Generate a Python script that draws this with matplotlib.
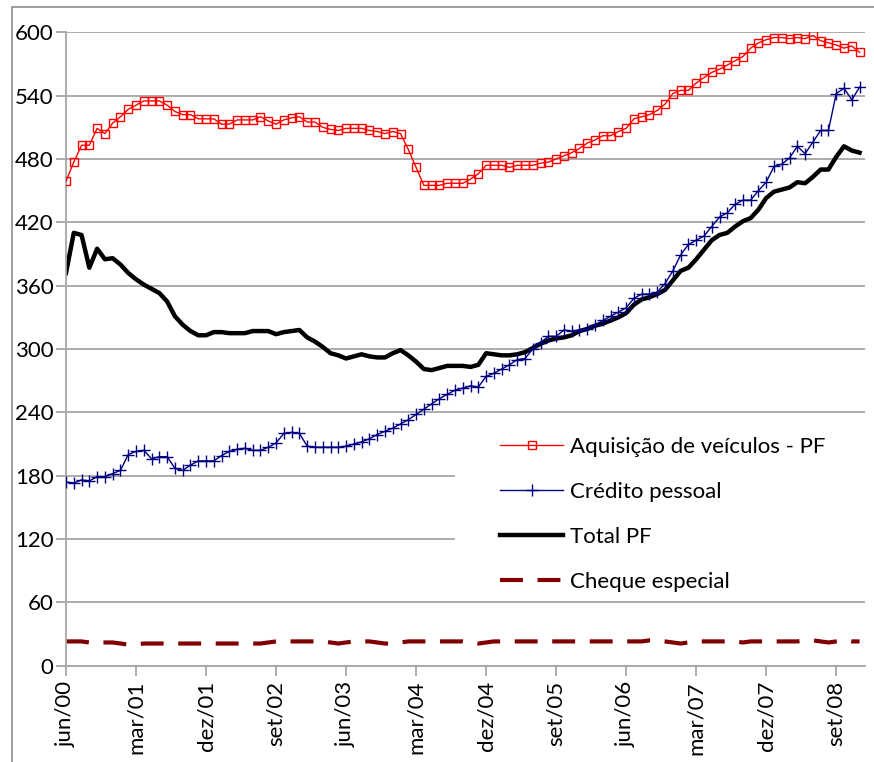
import numpy as np
import matplotlib
matplotlib.use("Agg")
import matplotlib.pyplot as plt
from matplotlib.patches import Rectangle

plt.rcParams["font.family"] = ["Lato", "DejaVu Sans"]

# ---- data (monthly, jun/00 .. dez/08) ----
veiculos = [459, 477, 493, 493, 509, 504, 514, 520, 527, 531,
            535, 535, 535, 531, 525, 522, 522, 518, 518, 518,
            513, 513, 517, 517, 517, 520, 516, 513, 517, 519,
            520, 515, 515, 510, 508, 507, 509, 509, 509, 507,
            506, 504, 506, 504, 489, 472, 455, 455, 455, 457,
            457, 457, 461, 466, 474, 474, 474, 472, 474, 474,
            474, 476, 477, 480, 483, 486, 490, 495, 498, 502,
            502, 506, 509, 518, 520, 522, 526, 532, 542, 545,
            545, 552, 557, 562, 565, 569, 573, 577, 585, 590,
            593, 595, 595, 594, 595, 594, 597, 592, 590, 588,
            585, 587, 581]

credito = [174, 173, 176, 175, 179, 179, 182, 185, 200, 203,
           204, 196, 198, 198, 187, 185, 190, 194, 194, 194,
           199, 203, 205, 206, 204, 204, 207, 211, 220, 221,
           220, 208, 207, 207, 207, 207, 208, 210, 212, 215,
           219, 222, 225, 229, 233, 238, 243, 248, 253, 257,
           261, 263, 265, 264, 274, 277, 281, 285, 290, 291,
           300, 306, 312, 312, 318, 317, 318, 319, 323, 327,
           331, 335, 339, 348, 352, 352, 354, 362, 374, 389,
           399, 403, 407, 416, 425, 429, 437, 441, 441, 450,
           458, 473, 475, 481, 492, 485, 496, 507, 507, 542,
           547, 536, 548]

total_pf = [372, 410, 408, 377, 395, 385, 386, 380, 372, 366,
            361, 357, 353, 345, 331, 323, 317, 313, 313, 316,
            316, 315, 315, 315, 317, 317, 317, 314, 316, 317,
            318, 311, 307, 302, 296, 294, 291, 293, 295, 293,
            292, 292, 296, 299, 294, 288, 281, 280, 282, 284,
            284, 284, 283, 285, 296, 295, 294, 294, 295, 297,
            301, 305, 308, 310, 311, 313, 317, 319, 322, 324,
            327, 330, 334, 342, 347, 349, 352, 356, 365, 374,
            377, 385, 394, 403, 408, 410, 416, 421, 424, 432,
            443, 449, 451, 453, 458, 457, 463, 470, 470, 482,
            492, 488, 486]

cheque = [23, 23, 23, 22, 22, 22, 22, 21, 20, 20,
          21, 21, 21, 21, 21, 21, 21, 21, 21, 21,
          21, 21, 21, 21, 21, 21, 22, 23, 23, 23,
          23, 23, 23, 23, 22, 21, 22, 23, 23, 23,
          22, 21, 21, 22, 23, 23, 23, 23, 23, 23,
          23, 23, 22, 21, 22, 23, 23, 23, 23, 23,
          23, 23, 23, 23, 23, 23, 23, 23, 23, 23,
          23, 23, 23, 23, 23, 24, 24, 23, 22, 21,
          22, 23, 23, 23, 23, 23, 23, 22, 23, 23,
          23, 23, 23, 23, 23, 24, 24, 23, 22, 23,
          24, 23, 23]

tick_labels = ["jun/00", "mar/01", "dez/01", "set/02", "jun/03", "mar/04",
               "dez/04", "set/05", "jun/06", "mar/07", "dez/07", "set/08"]

x = np.arange(len(veiculos))

# ---- figure ----
W, H = 874, 762
fig = plt.figure(figsize=(W / 100, H / 100), dpi=100)
ax = fig.add_axes([66 / W, 1 - 665.7 / H, (865 - 66) / W, (665.7 - 32.3) / H])

# outer chart border (cropped by the image edge)
fig.patches.append(Rectangle((12 / W, -0.1), 1.2, 1.1 - 7 / H,
                             transform=fig.transFigure, fill=False,
                             edgecolor="#8c8c8c", linewidth=1.2))

grid_c = "#a6a6a6"
ax.set_axisbelow(True)
ax.yaxis.grid(True, color=grid_c, linewidth=1.3)

# white block behind the legend, hides the gridlines there
ax.add_patch(Rectangle((455 / W, 1 - 595 / H), (870 - 455) / W, (595 - 430) / H,
                       transform=fig.transFigure, facecolor="white",
                       edgecolor="none", zorder=1.5))

ax.plot(x, veiculos, color="#ff0000", linewidth=1.0, marker="s",
        markersize=5.5, markerfacecolor="none", markeredgecolor="#ff0000",
        markeredgewidth=1.0, label="Aquisição de veículos - PF", zorder=4)
ax.plot(x, credito, color="#000080", linewidth=1.0, marker="+",
        markersize=8, markeredgewidth=1.0, label="Crédito pessoal", zorder=3)
ax.plot(x, total_pf, color="black", linewidth=3.2, solid_joinstyle="round",
        label="Total PF", zorder=2)
ax.plot(x, cheque, color="#800000", linewidth=3.0, dashes=(5.5, 3.5),
        label="Cheque especial", zorder=2)

ax.set_xlim(0, 102.7)
ax.set_ylim(0, 600)
ax.set_yticks(np.arange(0, 601, 60))
ax.set_xticks(np.arange(0, 9 * len(tick_labels), 9))
ax.set_xticklabels(tick_labels, rotation=90)

for s in ["top", "right"]:
    ax.spines[s].set_visible(False)
for s in ["left", "bottom"]:
    ax.spines[s].set_color(grid_c)
    ax.spines[s].set_linewidth(1.3)

ax.tick_params(axis="both", colors=grid_c, labelcolor="black",
               labelsize=16, width=1.3, length=7)
ax.tick_params(axis="x", pad=4)
ax.tick_params(axis="y", pad=2)

leg = ax.legend(loc="upper left", bbox_to_anchor=(500 / W, 1 - 437 / H),
                bbox_transform=fig.transFigure, fontsize=16, frameon=False,
                handlelength=2.85, handletextpad=0.3,
                labelspacing=1.12, borderpad=0, borderaxespad=0)
leg.set_zorder(10)

fig.savefig("out.png", dpi=100)
